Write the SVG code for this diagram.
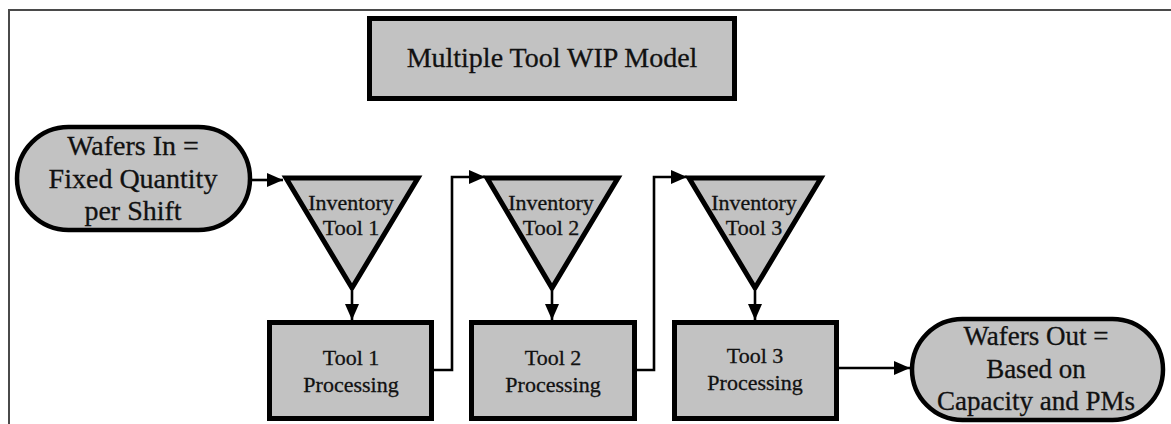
<svg xmlns="http://www.w3.org/2000/svg" width="1171" height="424" viewBox="0 0 1171 424">
  <style>
    .shape { fill: #c2c2c2; stroke: #000; stroke-width: 5; stroke-linejoin: miter; }
    .term { fill: #c2c2c2; stroke: #000; stroke-width: 4.5; }
    text { font-family: "Liberation Serif", "Times New Roman", serif; fill: #111; text-anchor: middle; stroke: #111; stroke-width: 0.3; }
    .big { font-size: 28px; }
    .mid { font-size: 27px; }
    .small { font-size: 22px; }
    .conn { fill: none; stroke: #000; stroke-width: 2.6; marker-end: url(#arrow); }
    .frame { fill: none; stroke: #4a4a4a; stroke-width: 2; }
  </style>
  <defs>
    <marker id="arrow" markerUnits="userSpaceOnUse" markerWidth="16" markerHeight="14" refX="16" refY="7" orient="auto">
      <path d="M0,0 L16,7 L0,14 Z" fill="#000"/>
    </marker>
  </defs>

  <rect width="1171" height="424" fill="#fff"/>
  <!-- outer frame (top and left edges) -->
  <path class="frame" d="M9,424 V10 H1171"/>

  <!-- connectors -->
  <g id="connectors">
    <path class="conn" d="M252,180 H283"/>
    <path class="conn" d="M352,291 V320"/>
    <path class="conn" d="M434,370 H452 V177 H485"/>
    <path class="conn" d="M552,291 V320"/>
    <path class="conn" d="M637,370 H654 V177 H687"/>
    <path class="conn" d="M755,291 V320"/>
    <path class="conn" d="M839,368 H910"/>
  </g>

  <g id="title">
    <rect class="shape" x="369.5" y="18.5" width="365" height="80"/>
    <text class="big" x="552" y="67" font-family="Liberation Serif, serif">Multiple Tool WIP Model</text>
  </g>

  <g id="wafers-in">
    <rect class="term" x="17" y="127" width="233" height="103" rx="51.5" ry="51.5"/>
    <text class="big" x="133" y="155" font-family="Liberation Serif, serif">Wafers In =</text>
    <text class="big" x="133" y="188" font-family="Liberation Serif, serif">Fixed Quantity</text>
    <text class="big" x="133" y="220" font-family="Liberation Serif, serif">per Shift</text>
  </g>

  <g id="inventory-1">
    <polygon class="shape" points="286,178 418,178 352,288"/>
    <text class="small" x="351" y="210" font-family="Liberation Serif, serif">Inventory</text>
    <text class="small" x="351" y="235" font-family="Liberation Serif, serif">Tool 1</text>
  </g>

  <g id="inventory-2">
    <polygon class="shape" points="487,178 618,178 552,288"/>
    <text class="small" x="551" y="210" font-family="Liberation Serif, serif">Inventory</text>
    <text class="small" x="551" y="235" font-family="Liberation Serif, serif">Tool 2</text>
  </g>

  <g id="inventory-3">
    <polygon class="shape" points="689,178 821,178 755,288"/>
    <text class="small" x="754" y="210" font-family="Liberation Serif, serif">Inventory</text>
    <text class="small" x="754" y="235" font-family="Liberation Serif, serif">Tool 3</text>
  </g>

  <g id="tool-1">
    <rect class="shape" x="269.5" y="322.5" width="162" height="96"/>
    <text class="small" x="351" y="365" font-family="Liberation Serif, serif">Tool 1</text>
    <text class="small" x="351" y="392" font-family="Liberation Serif, serif">Processing</text>
  </g>

  <g id="tool-2">
    <rect class="shape" x="471.5" y="322.5" width="163" height="96"/>
    <text class="small" x="553" y="365" font-family="Liberation Serif, serif">Tool 2</text>
    <text class="small" x="553" y="392" font-family="Liberation Serif, serif">Processing</text>
  </g>

  <g id="tool-3">
    <rect class="shape" x="674.5" y="322.5" width="162" height="96"/>
    <text class="small" x="755" y="363" font-family="Liberation Serif, serif">Tool 3</text>
    <text class="small" x="755" y="390" font-family="Liberation Serif, serif">Processing</text>
  </g>

  <g id="wafers-out">
    <rect class="term" x="912" y="319" width="251" height="101" rx="50.5" ry="50.5"/>
    <text class="mid" x="1036" y="345" font-family="Liberation Serif, serif">Wafers Out =</text>
    <text class="mid" x="1036" y="378" font-family="Liberation Serif, serif">Based on</text>
    <text class="mid" x="1036" y="410" font-family="Liberation Serif, serif">Capacity and PMs</text>
  </g>
</svg>
